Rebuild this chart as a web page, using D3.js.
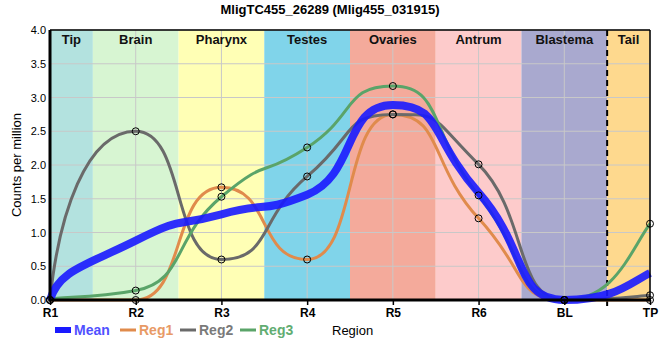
<!DOCTYPE html>
<html><head><meta charset="utf-8">
<script src="https://cdn.jsdelivr.net/npm/d3@7"></script>
<style>body{margin:0;background:#fff;font-family:"Liberation Sans",Arial,sans-serif;}</style>
</head><body><svg id="c" width="660" height="360"></svg>
<script>
const regions = ["R1","R2","R3","R4","R5","R6","BL","TP"];
const meanVals = [0, 0.88, 1.27, 1.56, 2.89, 1.59, 0, 0.40];
const reg1Vals = [0, 0, 1.67, 0.60, 2.75, 1.21, 0, 0];
const reg2Vals = [0, 2.50, 0.60, 1.83, 2.75, 2.01, 0, 0.07];
const reg3Vals = [0, 0.14, 1.53, 2.26, 3.17, 1.55, 0, 1.13];
const bandNames = ["Tip","Brain","Pharynx","Testes","Ovaries","Antrum","Blastema","Tail"];
const bandStart = [0, 0.5, 1.5, 2.5, 3.5, 4.5, 5.5, 6.5];
const bandEnd = [0.5, 1.5, 2.5, 3.5, 4.5, 5.5, 6.5, 7];
const bandColors = ["#b3e2df","#d7f5d2","#ffffb5","#80d4ea","#f4aa9b","#fdcbcb","#a9a9cf","#fed98e"];
const yTicks = [0,0.5,1,1.5,2,2.5,3,3.5,4];

const svg = d3.select("#c");
const L=50,R=650,T=30,B=300;
const x = d3.scaleLinear().domain([0,7]).range([L,R]);
const y = d3.scaleLinear().domain([0,4]).range([B,T]);

// spline with flattened extrema and long handles
const H = 0.58, SX = 0.1, SY = 0.5, EX = 0.25, EY = 0.4;
function splinePath(vals){
  const pts = vals.map((v,i)=>({x:x(i), y:y(v)}));
  const n = pts.length;
  pts.forEach((p,i)=>{
    const a = pts[i-1], b = pts[i+1];
    if(a && b){
      const slope = (b.y-a.y)/(b.x-a.x);
      const dl = (p.x-a.x)*H, dr = (b.x-p.x)*H;
      let lx=p.x-dl, ly=p.y-slope*dl, rx=p.x+dr, ry=p.y+slope*dr;
      if(ly>a.y && ly>p.y){ ly=Math.max(a.y,p.y); ry=p.y+(p.y-ly)*dr/dl; }
      else if(ly<a.y && ly<p.y){ ly=Math.min(a.y,p.y); ry=p.y+(p.y-ly)*dr/dl; }
      if(ry>b.y && ry>p.y){ ry=Math.max(b.y,p.y); ly=p.y-(ry-p.y)*dl/dr; }
      else if(ry<b.y && ry<p.y){ ry=Math.min(b.y,p.y); ly=p.y-(ry-p.y)*dl/dr; }
      p.lx=lx; p.ly=ly; p.rx=rx; p.ry=ry;
    }
  });
  const p0=pts[0], p1=pts[1], pn=pts[n-1], pm=pts[n-2];
  p0.rx = p0.x + SX*(p1.x-p0.x); p0.ry = p0.y + SY*(p1.y-p0.y);
  pn.lx = pn.x - EX*(pn.x-pm.x); pn.ly = pn.y + EY*(pm.y-pn.y);
  const path = d3.path();
  pts.forEach((p,i)=>{
    if(i===0){ path.moveTo(p.x,p.y); return; }
    const q = pts[i-1];
    path.bezierCurveTo(q.rx, q.ry, p.lx, p.ly, p.x, p.y);
  });
  return path.toString();
}

// bands
svg.selectAll("rect.band").data(bandNames).enter().append("rect")
  .attr("x",(d,i)=>x(bandStart[i])).attr("y",T)
  .attr("width",(d,i)=>x(bandEnd[i])-x(bandStart[i])).attr("height",B-T)
  .attr("fill",(d,i)=>bandColors[i]);
// grid
svg.selectAll("line.hg").data(yTicks).enter().append("line")
  .attr("x1",L).attr("x2",R).attr("y1",d=>y(d)).attr("y2",d=>y(d))
  .attr("stroke","#c8c8c8").attr("stroke-width",1);
svg.selectAll("line.vg").data(regions).enter().append("line")
  .attr("x1",(d,i)=>x(i)).attr("x2",(d,i)=>x(i)).attr("y1",T).attr("y2",B)
  .attr("stroke","#c8c8c8").attr("stroke-width",1);
// band labels
svg.selectAll("text.bl").data(bandNames).enter().append("text")
  .attr("x",(d,i)=>(x(bandStart[i])+x(bandEnd[i]))/2).attr("y",T+14)
  .attr("text-anchor","middle").attr("font-size",13).attr("font-weight","bold").attr("fill","#111")
  .text(d=>d);
// dashed line
svg.append("line").attr("x1",x(6.5)).attr("x2",x(6.5)).attr("y1",T).attr("y2",B+6)
  .attr("stroke","#000").attr("stroke-width",2).attr("stroke-dasharray","6,4");

const series = [
  {name:"Reg1", vals:reg1Vals, color:"#e08b4c", text:"#e89a66"},
  {name:"Reg2", vals:reg2Vals, color:"#6a6a6a", text:"#7a7a7a"},
  {name:"Reg3", vals:reg3Vals, color:"#5aa469", text:"#62ad72"}
];
series.forEach(s=>{
  svg.append("path").attr("d",splinePath(s.vals)).attr("fill","none")
    .attr("stroke",s.color).attr("stroke-width",3);
});
svg.append("path").attr("d",splinePath(meanVals)).attr("fill","none")
  .attr("stroke","#1a1aff").attr("stroke-opacity",0.9).attr("stroke-width",8);
series.forEach(s=>{
  svg.selectAll(null).data(s.vals).enter().append("circle")
    .attr("cx",(d,i)=>x(i)).attr("cy",d=>y(d)).attr("r",3.5)
    .attr("fill","none").attr("stroke","#000").attr("stroke-width",1);
});

// axes
const yAxis = svg.append("g").attr("transform",`translate(${L},0)`)
  .call(d3.axisLeft(y).tickValues(yTicks).tickFormat(d3.format(".1f")).tickSize(0).tickPadding(4));
yAxis.select(".domain").remove();
yAxis.selectAll("text").attr("font-size",11).attr("fill","#000").attr("font-family","Liberation Sans, Arial, sans-serif");
const xAxis = svg.append("g").attr("transform",`translate(0,${B})`)
  .call(d3.axisBottom(x).tickValues(d3.range(8)).tickFormat(i=>regions[i]).tickSize(5).tickPadding(3));
xAxis.select(".domain").remove();
xAxis.selectAll("line").attr("stroke","#000").attr("stroke-width",1.5);
xAxis.selectAll("text").attr("font-size",12).attr("fill","#000").attr("font-weight","bold").attr("font-family","Liberation Sans, Arial, sans-serif");

// frame
svg.append("line").attr("x1",L).attr("x2",R).attr("y1",T).attr("y2",T).attr("stroke","#000").attr("stroke-width",1.5);
svg.append("line").attr("x1",R).attr("x2",R).attr("y1",T).attr("y2",B).attr("stroke","#000").attr("stroke-width",1.5);
svg.append("line").attr("x1",L).attr("x2",L).attr("y1",T).attr("y2",B+1.5).attr("stroke","#000").attr("stroke-width",3);
svg.append("line").attr("x1",L-1.5).attr("x2",R+1).attr("y1",B).attr("y2",B).attr("stroke","#000").attr("stroke-width",3);

// title
svg.append("text").attr("x",330).attr("y",14).attr("text-anchor","middle")
  .attr("font-size",13).attr("font-weight","bold").text("MligTC455_26289 (Mlig455_031915)");
svg.append("text").attr("transform","translate(21,165) rotate(-90)").attr("text-anchor","middle")
  .attr("font-size",13).text("Counts per million");
svg.append("text").attr("x",332).attr("y",335).attr("font-size",13).text("Region");

// legend
const leg = [{name:"Mean",color:"#1a1aff",text:"#5050ff",w:6}].concat(series.map(s=>({name:s.name,color:s.color,text:s.text,w:3})));
const legX = [55,120,180,240];
leg.forEach((l,i)=>{
  svg.append("line").attr("x1",legX[i]).attr("x2",legX[i]+16).attr("y1",330).attr("y2",330)
    .attr("stroke",l.color).attr("stroke-width",l.w);
  svg.append("text").attr("x",legX[i]+19).attr("y",335).attr("font-size",14).attr("font-weight","bold")
    .attr("fill",l.text).text(l.name);
});
</script></body></html>
